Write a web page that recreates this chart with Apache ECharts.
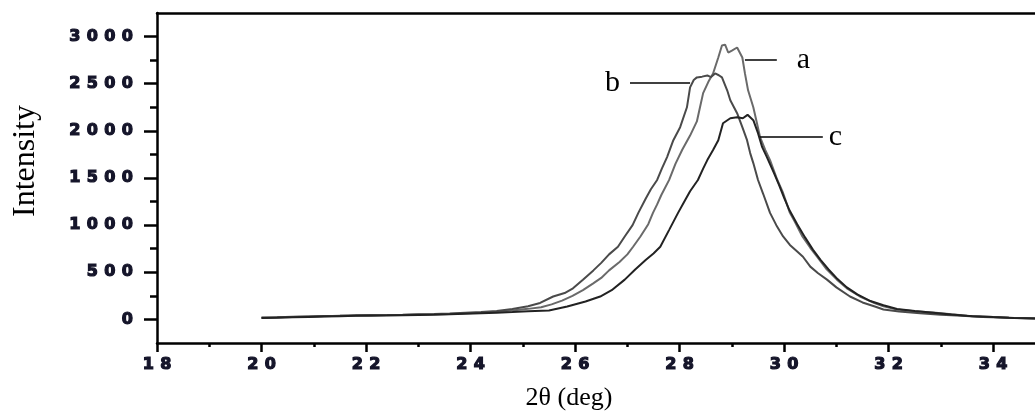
<!DOCTYPE html>
<html>
<head>
<meta charset="utf-8">
<script src="https://cdn.jsdelivr.net/npm/echarts@6/dist/echarts.min.js"></script>
<style>
html,body{margin:0;padding:0;background:#fff;}
#chart{width:1035px;height:411px;}
</style>
</head>
<body>
<div id="chart"></div>
<script>
// ---- data ----
const xTickValues = [18, 20, 22, 24, 26, 28, 30, 32, 34];
const xMinorValues = [19, 21, 23, 25, 27, 29, 31, 33];
const yTickValues = [0, 500, 1000, 1500, 2000, 2500, 3000];
const yMinorValues = [250, 750, 1250, 1750, 2250, 2750];

const curveA = [
  [20.0,20],[20.3,22],[20.6,25],[20.9,30],[21.2,35],[21.5,40],[21.8,42],[22.1,45],[22.4,48],[22.7,47],
  [23.0,52],[23.3,55],[23.6,58],[23.9,65],[24.2,72],[24.5,82],[24.8,95],[25.1,112],[25.35,130],[25.55,160],
  [25.75,200],[25.95,250],[26.15,310],[26.34,380],[26.5,440],[26.65,520],[26.85,610],[27.0,690],[27.11,771],
  [27.25,880],[27.4,1010],[27.49,1130],[27.57,1220],[27.65,1320],[27.8,1480],[27.92,1650],[28.05,1800],
  [28.2,1950],[28.33,2100],[28.39,2250],[28.45,2400],[28.55,2520],[28.64,2609],[28.74,2778],[28.81,2905],
  [28.87,2915],[28.93,2831],[29.0,2852],[29.1,2884],[29.2,2778],[29.25,2609],[29.31,2430],[29.41,2250],
  [29.48,2081],[29.54,1933],[29.64,1796],[29.73,1690],[29.87,1479],[29.98,1341],[30.11,1130],[30.2,1040],
  [30.35,880],[30.5,760],[30.63,665],[30.8,540],[31.01,422],[31.2,330],[31.45,243],[31.7,180],[31.9,140],
  [32.16,106],[32.5,88],[32.85,74],[33.2,55],[33.5,38],[33.9,28],[34.3,18],[34.8,12]
];
const curveB = [
  [20.0,18],[20.3,24],[20.6,28],[20.9,32],[21.2,36],[21.5,38],[21.8,44],[22.1,48],[22.4,46],[22.7,50],
  [23.0,55],[23.3,58],[23.6,62],[23.9,70],[24.2,78],[24.5,90],[24.8,110],[25.1,140],[25.33,175],[25.58,243],
  [25.8,280],[25.96,330],[26.15,422],[26.35,520],[26.5,600],[26.65,690],[26.82,771],[26.95,880],[27.1,1000],
  [27.21,1130],[27.35,1280],[27.45,1380],[27.57,1479],[27.66,1600],[27.76,1722],[27.88,1901],[28.01,2039],
  [28.14,2250],[28.2,2461],[28.27,2540],[28.33,2567],[28.43,2575],[28.53,2588],[28.6,2570],[28.68,2609],
  [28.75,2590],[28.81,2567],[28.91,2430],[28.97,2324],[29.1,2187],[29.2,2039],[29.29,1901],[29.35,1764],
  [29.41,1658],[29.5,1479],[29.6,1330],[29.73,1130],[29.85,1000],[29.98,880],[30.11,790],[30.25,720],
  [30.36,665],[30.5,560],[30.65,490],[30.82,422],[31.0,340],[31.26,243],[31.5,180],[31.75,135],[31.9,106],
  [32.2,85],[32.6,65],[33.0,50],[33.4,38],[33.8,27],[34.3,18],[34.8,10]
];
const curveC = [
  [20.0,15],[20.3,18],[20.6,22],[20.9,26],[21.2,30],[21.5,34],[21.8,38],[22.1,40],[22.4,42],[22.7,45],
  [23.0,48],[23.3,50],[23.6,54],[23.9,60],[24.2,66],[24.5,72],[24.8,78],[25.1,86],[25.5,95],[25.85,137],
  [26.2,190],[26.48,243],[26.7,310],[26.95,422],[27.15,530],[27.35,630],[27.5,700],[27.63,771],[27.8,950],
  [27.97,1130],[28.08,1240],[28.2,1360],[28.35,1479],[28.45,1600],[28.53,1690],[28.64,1796],[28.74,1901],
  [28.83,2081],[28.97,2134],[29.1,2144],[29.21,2134],[29.3,2170],[29.41,2113],[29.5,1975],[29.58,1827],
  [29.67,1722],[29.8,1560],[29.9,1430],[30.0,1290],[30.1,1160],[30.25,1010],[30.4,870],[30.55,740],
  [30.7,630],[30.85,530],[31.0,440],[31.2,340],[31.4,265],[31.65,195],[31.9,150],[32.16,110],[32.5,90],
  [32.85,72],[33.2,52],[33.6,35],[34.0,25],[34.4,16],[34.8,10]
];

const annotNames = ['a', 'b', 'c'];
const annotStart = [[29.25, 2750], [28.2, 2508], [29.54, 1934]];
const annotEnd = [[29.86, 2750], [27.05, 2508], [30.74, 1934]];

// ---- chart ----
const digitFormatter = v => String(v).split('').map(ch => '{d|' + ch + '}').join('');
const digitRich = {
  d: {
    width: 17.5, align: 'center', fontFamily: 'DejaVu Sans', fontWeight: 'bold', fontSize: 16,
    color: '#15152a', textBorderColor: '#15152a', textBorderWidth: 1.2
  }
};
const serif = '"Liberation Serif", "Times New Roman", serif';

function annot(i, dist) {
  return {
    symbol: 'none',
    silent: true,
    animation: false,
    lineStyle: { color: '#000', width: 1.6, type: 'solid' },
    label: { show: true, position: 'end', formatter: annotNames[i], fontFamily: serif, fontSize: 30, color: '#000', distance: dist },
    data: [[{ coord: annotStart[i] }, { coord: annotEnd[i] }]]
  };
}

const chart = echarts.init(document.getElementById('chart'), null, { renderer: 'canvas' });
chart.setOption({
  animation: false,
  backgroundColor: '#fff',
  grid: { left: 157, right: 0, top: 13, bottom: 68, containLabel: false, outerBoundsMode: 'none' },
  xAxis: [
    {
      type: 'value', min: 18, max: 34.8, position: 'bottom',
      axisLine: { show: true, onZero: false, lineStyle: { color: '#000', width: 2.5 } },
      axisTick: { show: true, customValues: xTickValues, length: 9, lineStyle: { color: '#000', width: 2.5 } },
      axisLabel: { show: true, customValues: xTickValues, margin: 14, formatter: digitFormatter, rich: digitRich },
      splitLine: { show: false },
      name: '2θ (deg)', nameLocation: 'middle', nameGap: 42,
      nameTextStyle: { fontFamily: serif, fontSize: 26, color: '#000', padding: [0, 54, 0, 0] }
    },
    {
      type: 'value', min: 18, max: 34.8, position: 'bottom',
      axisLine: { show: false, onZero: false },
      axisTick: { show: true, customValues: xMinorValues, length: 4, lineStyle: { color: '#000', width: 2.5 } },
      axisLabel: { show: false },
      splitLine: { show: false }
    },
    {
      type: 'value', min: 18, max: 34.8, position: 'top',
      axisLine: { show: true, onZero: false, lineStyle: { color: '#000', width: 2.5 } },
      axisTick: { show: false }, axisLabel: { show: false }, splitLine: { show: false }
    }
  ],
  yAxis: [
    {
      type: 'value', min: -250, max: 3250, position: 'left',
      axisLine: { show: true, onZero: false, lineStyle: { color: '#000', width: 2.5 } },
      axisTick: { show: true, customValues: yTickValues, length: 13, lineStyle: { color: '#000', width: 2.5 } },
      axisLabel: { show: true, customValues: yTickValues, margin: 21, formatter: digitFormatter, rich: digitRich },
      splitLine: { show: false },
      name: 'Intensity', nameLocation: 'middle', nameGap: 115, nameRotate: 90,
      nameTextStyle: { fontFamily: serif, fontSize: 32, color: '#000', padding: [0, 0, 0, 34] }
    },
    {
      type: 'value', min: -250, max: 3250, position: 'left',
      axisLine: { show: false, onZero: false },
      axisTick: { show: true, customValues: yMinorValues, length: 7, lineStyle: { color: '#000', width: 2.5 } },
      axisLabel: { show: false },
      splitLine: { show: false }
    }
  ],
  series: [
    {
      name: 'a', type: 'line', data: curveA, xAxisIndex: 0, yAxisIndex: 0,
      showSymbol: false, smooth: false,
      lineStyle: { color: '#6a6a6a', width: 2 },
      markLine: annot(0, 20)
    },
    {
      name: 'b', type: 'line', data: curveB, xAxisIndex: 0, yAxisIndex: 0,
      showSymbol: false, smooth: false,
      lineStyle: { color: '#4a4a4a', width: 2 },
      markLine: annot(1, 10)
    },
    {
      name: 'c', type: 'line', data: curveC, xAxisIndex: 0, yAxisIndex: 0,
      showSymbol: false, smooth: false,
      lineStyle: { color: '#222', width: 2 },
      markLine: annot(2, 6)
    }
  ]
});
</script>
</body>
</html>
